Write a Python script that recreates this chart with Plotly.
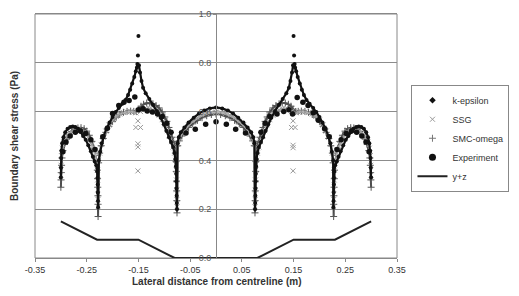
import plotly.graph_objects as go

# ---------------- data ----------------
X_TICKS = [-0.35, -0.25, -0.15, -0.05, 0.05, 0.15, 0.25, 0.35]
X_TICK_LABELS = ["-0.35", "-0.25", "-0.15", "-0.05", "0.05", "0.15", "0.25", "0.35"]
Y_TICKS = [0.0, 0.2, 0.4, 0.6, 0.8, 1.0]
Y_TICK_LABELS = ["0.0", "0.2", "0.4", "0.6", "0.8", "1.0"]

# k-epsilon
KE_X = [-0.3000, -0.2998, -0.2995, -0.2990, -0.2975, -0.2950, -0.2915, -0.2870, -0.2820, -0.2770,
        -0.2720, -0.2670, -0.2620, -0.2570, -0.2520, -0.2470, -0.2420, -0.2380, -0.2345, -0.2315,
        -0.2298, -0.2292, -0.2288, -0.2285, -0.2282, -0.2280,
        -0.2265, -0.2240, -0.2210, -0.2170, -0.2120, -0.2060, -0.2000, -0.1940, -0.1880, -0.1810,
        -0.1750, -0.1700, -0.1660, -0.1620, -0.1580, -0.1550, -0.1530, -0.1520, None, -0.1510, None, -0.1500, None,
        -0.1490, -0.1470, -0.1440, -0.1410, -0.1360, -0.1290, -0.1220, -0.1140, -0.1070, -0.1010,
        -0.0960, -0.0910, -0.0870, -0.0830, -0.0800, -0.0785,
        -0.0775, -0.0770, -0.0767, -0.0764, -0.0761, -0.0758, -0.0755,
        -0.0745, -0.0720, -0.0680, -0.0610, -0.0530, -0.0430, -0.0330, -0.0230, -0.0120, 0.0000,
        0.0120, 0.0230, 0.0330, 0.0430, 0.0530, 0.0610, 0.0680, 0.0720, 0.0745,
        0.0755, 0.0758, 0.0761, 0.0764, 0.0767, 0.0770, 0.0775,
        0.0785, 0.0800, 0.0830, 0.0870, 0.0910, 0.0960, 0.1010, 0.1070, 0.1140, 0.1220,
        0.1290, 0.1360, 0.1410, 0.1440, 0.1470, 0.1490, None, 0.1500, None, 0.1510, None,
        0.1520, 0.1530, 0.1550, 0.1580, 0.1620, 0.1660, 0.1700, 0.1750, 0.1810, 0.1880,
        0.1940, 0.2000, 0.2060, 0.2120, 0.2170, 0.2210, 0.2240, 0.2265,
        0.2270, 0.2273, 0.2276, 0.2279, 0.2282, 0.2288,
        0.2305, 0.2335, 0.2370, 0.2410, 0.2460, 0.2510, 0.2560, 0.2610, 0.2660, 0.2710,
        0.2760, 0.2810, 0.2860, 0.2905, 0.2940, 0.2965, 0.2980, 0.2988, 0.2994, 0.2998]
KE_Y = [0.330, 0.370, 0.410, 0.440, 0.470, 0.495, 0.515, 0.530, 0.537, 0.539,
        0.537, 0.530, 0.517, 0.500, 0.485, 0.462, 0.438, 0.415, 0.395, 0.380,
        0.355, 0.328, 0.301, 0.268, 0.234, 0.208,
        0.400, 0.435, 0.470, 0.500, 0.530, 0.555, 0.578, 0.598, 0.615, 0.632,
        0.648, 0.668, 0.690, 0.715, 0.742, 0.765, 0.780, 0.795, None, 0.830, None, 0.910, None,
        0.790, 0.760, 0.725, 0.698, 0.675, 0.652, 0.628, 0.602, 0.575, 0.548,
        0.522, 0.495, 0.475, 0.455, 0.430, 0.405,
        0.375, 0.345, 0.315, 0.285, 0.255, 0.225, 0.200,
        0.470, 0.495, 0.515, 0.535, 0.555, 0.575, 0.592, 0.604, 0.613, 0.617,
        0.613, 0.604, 0.592, 0.575, 0.555, 0.535, 0.515, 0.495, 0.470,
        0.200, 0.225, 0.255, 0.285, 0.315, 0.345, 0.375,
        0.405, 0.430, 0.455, 0.475, 0.495, 0.522, 0.548, 0.575, 0.602, 0.628,
        0.652, 0.675, 0.698, 0.725, 0.760, 0.790, None, 0.910, None, 0.830, None,
        0.795, 0.780, 0.765, 0.742, 0.715, 0.690, 0.668, 0.648, 0.632, 0.615,
        0.598, 0.578, 0.555, 0.530, 0.500, 0.470, 0.435, 0.400,
        0.208, 0.234, 0.268, 0.301, 0.328, 0.355,
        0.380, 0.395, 0.415, 0.438, 0.462, 0.485, 0.500, 0.517, 0.530, 0.537,
        0.539, 0.537, 0.530, 0.515, 0.495, 0.470, 0.440, 0.410, 0.370, 0.330]

# SSG
SSG_X = [-0.3000, -0.2995, -0.2990, -0.2970, -0.2940, -0.2900, -0.2850, -0.2790, -0.2730, -0.2670,
         -0.2610, -0.2550, -0.2500, -0.2450, -0.2400, -0.2360, -0.2330, -0.2310,
         -0.2292, -0.2288, -0.2285, -0.2282, -0.2280,
         -0.2270, -0.2250, -0.2220, -0.2180, -0.2130, -0.2070, -0.2000, -0.1930, -0.1860, -0.1790,
         -0.1720, -0.1650, -0.1590, -0.1550, None,
         -0.1550, None, -0.1460, None, -0.1510, None, -0.1510, None, -0.1510, None, -0.1510, None,
         -0.1460, -0.1400, -0.1340, -0.1280, -0.1220, -0.1160, -0.1100, -0.1040, -0.0990, -0.0940,
         -0.0900, -0.0860, -0.0830, -0.0800, -0.0780,
         -0.0770, -0.0765, -0.0760, -0.0757, -0.0754,
         -0.0740, -0.0710, -0.0660, -0.0600, -0.0530, -0.0450, -0.0360, -0.0270, -0.0180, -0.0090, 0.0000,
         0.0090, 0.0180, 0.0270, 0.0360, 0.0450, 0.0530, 0.0600, 0.0660, 0.0710, 0.0740,
         0.0754, 0.0757, 0.0760, 0.0765, 0.0770,
         0.0780, 0.0800, 0.0830, 0.0860, 0.0900, 0.0940, 0.0990, 0.1040, 0.1100, 0.1160,
         0.1220, 0.1280, 0.1340, 0.1400, 0.1460, None,
         0.1460, None, 0.1530, None, 0.1490, None, 0.1490, None, 0.1490, None, 0.1490, None,
         0.1550, 0.1590, 0.1650, 0.1720, 0.1790, 0.1860, 0.1930, 0.2000, 0.2070, 0.2130,
         0.2180, 0.2220, 0.2250, 0.2270,
         0.2275, 0.2278, 0.2281, 0.2284, 0.2288,
         0.2305, 0.2325, 0.2355, 0.2395, 0.2445, 0.2495, 0.2545, 0.2605, 0.2665, 0.2725,
         0.2785, 0.2845, 0.2895, 0.2935, 0.2965, 0.2985, 0.2992, 0.2998]
SSG_Y = [0.340, 0.380, 0.420, 0.450, 0.475, 0.495, 0.508, 0.518, 0.524, 0.526,
         0.524, 0.517, 0.505, 0.488, 0.465, 0.440, 0.415, 0.395,
         0.360, 0.320, 0.280, 0.240, 0.210,
         0.400, 0.430, 0.465, 0.495, 0.520, 0.545, 0.565, 0.580, 0.590, 0.596,
         0.599, 0.600, 0.598, 0.595, None,
         0.535, None, 0.535, None, 0.562, None, 0.468, None, 0.455, None, 0.357, None,
         0.600, 0.608, 0.612, 0.612, 0.607, 0.598, 0.585, 0.567, 0.546, 0.522,
         0.500, 0.477, 0.455, 0.430, 0.400,
         0.360, 0.320, 0.280, 0.240, 0.210,
         0.465, 0.490, 0.510, 0.528, 0.545, 0.560, 0.574, 0.585, 0.592, 0.597, 0.598,
         0.597, 0.592, 0.585, 0.574, 0.560, 0.545, 0.528, 0.510, 0.490, 0.465,
         0.210, 0.240, 0.280, 0.320, 0.360,
         0.400, 0.430, 0.455, 0.477, 0.500, 0.522, 0.546, 0.567, 0.585, 0.598,
         0.607, 0.612, 0.612, 0.608, 0.600, None,
         0.535, None, 0.535, None, 0.562, None, 0.462, None, 0.452, None, 0.357, None,
         0.595, 0.598, 0.600, 0.599, 0.596, 0.590, 0.580, 0.565, 0.545, 0.520,
         0.495, 0.465, 0.430, 0.400,
         0.210, 0.240, 0.280, 0.320, 0.360,
         0.395, 0.415, 0.440, 0.465, 0.488, 0.505, 0.517, 0.524, 0.526, 0.524,
         0.518, 0.508, 0.495, 0.475, 0.450, 0.420, 0.380, 0.340]

# SMC-omega
SMC_X = [-0.3000, -0.2996, -0.2992, -0.2986, -0.2978, -0.2960, -0.2930, -0.2890, -0.2840, -0.2790,
         -0.2730, -0.2670, -0.2610, -0.2550, -0.2500, -0.2450, -0.2400, -0.2360, -0.2330, -0.2310,
         -0.2295, -0.2290, -0.2286, -0.2283, -0.2281, -0.2280,
         -0.2270, -0.2250, -0.2220, -0.2180, -0.2130, -0.2070, -0.2000, -0.1930, -0.1860, -0.1790,
         -0.1720, -0.1650, -0.1590, -0.1540,
         -0.1490, -0.1450, -0.1400, -0.1340, -0.1280, -0.1220, -0.1160, -0.1100, -0.1040, -0.0990,
         -0.0950, -0.0910, -0.0880, -0.0850, -0.0820, -0.0800, -0.0785,
         -0.0772, -0.0768, -0.0764, -0.0760, -0.0757, -0.0754,
         -0.0740, -0.0710, -0.0660, -0.0600, -0.0530, -0.0450, -0.0360, -0.0270, -0.0180, -0.0090, 0.0000,
         0.0090, 0.0180, 0.0270, 0.0360, 0.0450, 0.0530, 0.0600, 0.0660, 0.0710, 0.0740,
         0.0754, 0.0757, 0.0760, 0.0764, 0.0768, 0.0772,
         0.0785, 0.0800, 0.0820, 0.0850, 0.0880, 0.0910, 0.0950, 0.0990, 0.1040, 0.1100,
         0.1160, 0.1220, 0.1280, 0.1340, 0.1400, 0.1450, 0.1490,
         0.1540, 0.1590, 0.1650, 0.1720, 0.1790, 0.1860, 0.1930, 0.2000, 0.2070, 0.2130,
         0.2180, 0.2220, 0.2250, 0.2265,
         0.2275, 0.2277, 0.2280, 0.2283, 0.2287, 0.2292,
         0.2305, 0.2325, 0.2355, 0.2395, 0.2445, 0.2495, 0.2545, 0.2605, 0.2665, 0.2725,
         0.2785, 0.2835, 0.2885, 0.2925, 0.2955, 0.2975, 0.2984, 0.2990, 0.2995, 0.3000]
SMC_Y = [0.290, 0.320, 0.350, 0.380, 0.410, 0.440, 0.465, 0.487, 0.505, 0.518,
         0.528, 0.533, 0.534, 0.530, 0.520, 0.503, 0.478, 0.450, 0.420, 0.395,
         0.360, 0.325, 0.290, 0.255, 0.220, 0.170,
         0.390, 0.430, 0.460, 0.490, 0.515, 0.540, 0.560, 0.577, 0.589, 0.597,
         0.601, 0.602, 0.601, 0.600,
         0.610, 0.622, 0.630, 0.635, 0.635, 0.632, 0.625, 0.615, 0.598, 0.578,
         0.560, 0.535, 0.515, 0.495, 0.478, 0.462, 0.430,
         0.395, 0.355, 0.315, 0.275, 0.235, 0.185,
         0.460, 0.480, 0.500, 0.518, 0.535, 0.550, 0.564, 0.575, 0.583, 0.588, 0.590,
         0.588, 0.583, 0.575, 0.564, 0.550, 0.535, 0.518, 0.500, 0.480, 0.460,
         0.185, 0.235, 0.275, 0.315, 0.355, 0.395,
         0.430, 0.462, 0.478, 0.495, 0.515, 0.535, 0.560, 0.578, 0.598, 0.615,
         0.625, 0.632, 0.635, 0.635, 0.630, 0.622, 0.610,
         0.600, 0.601, 0.602, 0.601, 0.597, 0.589, 0.577, 0.560, 0.540, 0.515,
         0.490, 0.460, 0.430, 0.390,
         0.170, 0.220, 0.255, 0.290, 0.325, 0.360,
         0.395, 0.420, 0.450, 0.478, 0.503, 0.520, 0.530, 0.534, 0.533, 0.528,
         0.518, 0.505, 0.487, 0.465, 0.440, 0.410, 0.380, 0.350, 0.320, 0.290]

# Experiment
EXP_X = [-0.296, -0.290, -0.282, -0.272, -0.262, -0.252, -0.242, -0.234,
         -0.219, -0.210, -0.200, -0.188, -0.178, -0.168, -0.157, -0.150, -0.141, -0.133,
         -0.123, -0.113, -0.104, -0.095, -0.087, -0.058, -0.040, -0.020, 0.000,
         0.020, 0.038, 0.057, 0.087, 0.095, 0.104, 0.118, 0.131, 0.141, 0.148,
         0.157, 0.168, 0.178, 0.188, 0.198, 0.210, 0.219,
         0.234, 0.242, 0.252, 0.262, 0.272, 0.282, 0.290, 0.296]
EXP_Y = [0.435, 0.475, 0.500, 0.515, 0.520, 0.510, 0.485, 0.445,
         0.497, 0.532, 0.592, 0.625, 0.638, 0.645, 0.660, 0.608, 0.612, 0.602,
         0.598, 0.590, 0.580, 0.552, 0.515, 0.512, 0.528, 0.548, 0.558,
         0.548, 0.528, 0.512, 0.515, 0.552, 0.580, 0.590, 0.600, 0.608, 0.590,
         0.658, 0.638, 0.625, 0.595, 0.565, 0.530, 0.497,
         0.445, 0.485, 0.510, 0.520, 0.515, 0.500, 0.475, 0.435]

# y+z (bed profile)
BED_X = [-0.30, -0.23, -0.15, -0.08, 0.08, 0.15, 0.23, 0.30]
BED_Y = [0.15, 0.075, 0.075, 0.0, 0.0, 0.075, 0.075, 0.15]

# ---------------- figure ----------------
FONT = "Arial, Liberation Sans, sans-serif"
fig = go.Figure()

# legend-only entries
fig.add_trace(go.Scatter(x=[None], y=[None], mode="markers", name="k-epsilon",
                         marker=dict(symbol="diamond", size=5, color="#111")))
fig.add_trace(go.Scatter(x=[None], y=[None], mode="markers", name="SSG",
                         marker=dict(symbol="x-thin", size=5, line=dict(color="#999", width=1))))
fig.add_trace(go.Scatter(x=[None], y=[None], mode="markers", name="SMC-omega",
                         marker=dict(symbol="cross-thin", size=5, line=dict(color="#777", width=1))))
fig.add_trace(go.Scatter(x=[None], y=[None], mode="markers", name="Experiment",
                         marker=dict(symbol="circle", size=7, color="#111")))
fig.add_trace(go.Scatter(x=[None], y=[None], mode="lines", name="y+z",
                         line=dict(color="#222", width=2)))

# data traces
fig.add_trace(go.Scatter(x=SMC_X, y=SMC_Y, mode="lines+markers", showlegend=False,
                         line=dict(color="#4a4a4a", width=2),
                         marker=dict(symbol="cross-thin", size=5, line=dict(color="#555", width=1))))
fig.add_trace(go.Scatter(x=SSG_X, y=SSG_Y, mode="lines+markers", showlegend=False,
                         line=dict(color="#b4b4b4", width=2),
                         marker=dict(symbol="x-thin", size=5, line=dict(color="#999", width=1))))
fig.add_trace(go.Scatter(x=KE_X, y=KE_Y, mode="lines+markers", showlegend=False,
                         line=dict(color="#111", width=2.2),
                         marker=dict(symbol="circle", size=4, color="#111")))
fig.add_trace(go.Scatter(x=EXP_X, y=EXP_Y, mode="markers", showlegend=False,
                         marker=dict(symbol="circle", size=5.5, color="#111")))
fig.add_trace(go.Scatter(x=BED_X, y=BED_Y, mode="lines", showlegend=False,
                         line=dict(color="#222", width=2)))

fig.update_layout(
    width=519, height=296,
    margin=dict(l=35, r=108, t=9, b=38),
    plot_bgcolor="white", paper_bgcolor="white",
    font=dict(family=FONT, size=9, color="#333"),
    showlegend=True,
    legend=dict(x=1.04, y=0.71, xanchor="left", yanchor="top",
                bordercolor="#888", borderwidth=1, bgcolor="white",
                font=dict(size=9, color="#333"), itemwidth=30,
                tracegroupgap=0),
    xaxis=dict(range=[-0.35, 0.35], tickvals=X_TICKS, ticktext=X_TICK_LABELS,
               ticks="outside", ticklen=3, tickcolor="#888",
               showline=True, linecolor="#888", mirror=True,
               showgrid=False, zeroline=False, tickfont=dict(size=9, color="#333")),
    yaxis=dict(range=[0, 1], tickvals=Y_TICKS, ticktext=Y_TICK_LABELS,
               anchor="free", position=0.5,
               ticks="outside", ticklen=3, tickcolor="#888",
               showline=True, linecolor="#888",
               showgrid=True, gridcolor="#8c8c8c", gridwidth=1,
               zeroline=False, tickfont=dict(size=9, color="#555")),
    shapes=[dict(type="rect", xref="paper", yref="paper", x0=0, x1=1, y0=0, y1=1,
                 line=dict(color="#888", width=1), layer="below")],
    annotations=[
        dict(text="<b>Boundary shear stress (Pa)</b>", xref="paper", yref="paper",
             x=-0.058, y=0.5, textangle=-90, showarrow=False,
             xanchor="center", yanchor="middle", font=dict(size=10, color="#333")),
        dict(text="<b>Lateral distance from centreline (m)</b>", xref="paper", yref="paper",
             x=0.503, y=-0.098, showarrow=False,
             xanchor="center", yanchor="middle", font=dict(size=10, color="#333")),
    ],
)

fig.write_html("out.html")
